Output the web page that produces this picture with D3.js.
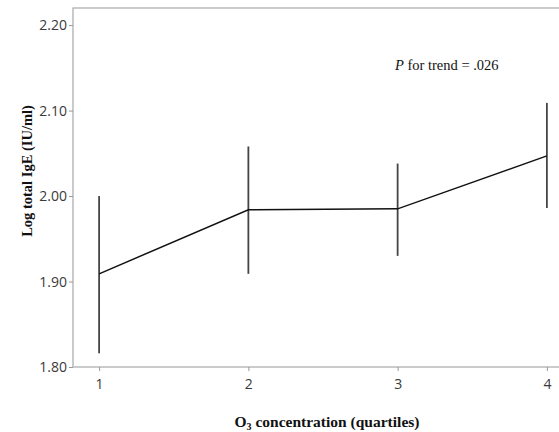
<!DOCTYPE html>
<html>
<head>
<meta charset="utf-8">
<script src="https://cdn.jsdelivr.net/npm/d3@7"></script>
<style>
  body { margin: 0; background: #fff; }
  svg { display: block; overflow: hidden; }
</style>
</head>
<body>
<svg id="canvas" width="559" height="432"></svg>
<script>
let quartiles = [1, 2, 3, 4]
let means = [1.909, 1.984, 1.985, 2.047]
let upper = [2.000, 2.058, 2.038, 2.109]
let lower = [1.816, 1.909, 1.930, 1.986]
let yTicks = [1.80, 1.90, 2.00, 2.10, 2.20]

let canvas = d3.select('#canvas')

let plotLeft = 73, plotRight = 573, plotTop = 8, plotBottom = 367

let xScale = d3.scaleLinear().domain([0.825, 4.175]).range([plotLeft, plotRight])
let yScale = d3.scaleLinear().domain([1.80, 2.22]).range([plotBottom, plotTop])

// frame
canvas.append('rect')
      .attr('x', plotLeft).attr('y', plotTop)
      .attr('width', plotRight - plotLeft).attr('height', plotBottom - plotTop)
      .attr('fill', 'none')
      .attr('stroke', '#a8a8a8')
      .attr('stroke-width', 1.2)

let yAxis = d3.axisLeft(yScale).tickValues(yTicks)
              .tickFormat(d3.format('.2f')).tickSize(4).tickPadding(2)
let xAxis = d3.axisBottom(xScale).tickValues(quartiles)
              .tickFormat(d3.format('d')).tickSize(4).tickPadding(8)

let gy = canvas.append('g').attr('transform', 'translate(' + plotLeft + ',0)').call(yAxis)
let gx = canvas.append('g').attr('transform', 'translate(0,' + plotBottom + ')').call(xAxis)

for (let g of [gx, gy]) {
    g.select('.domain').remove()
    g.selectAll('.tick line').attr('stroke', '#999')
    g.selectAll('.tick text')
     .attr('fill', '#3a3a3a')
     .style('font-family', '"Open Sans", "DejaVu Sans", sans-serif')
     .style('font-size', '14px')
}

// error bars
canvas.selectAll('.err')
      .data(quartiles)
      .enter()
      .append('line')
      .attr('class', 'err')
      .attr('x1', (d) => xScale(d))
      .attr('x2', (d) => xScale(d))
      .attr('y1', (d, i) => yScale(upper[i]))
      .attr('y2', (d, i) => yScale(lower[i]))
      .attr('stroke', '#444')
      .attr('stroke-width', 1.8)

// mean line
let line = d3.line()
             .x((d) => xScale(d))
             .y((d, i) => yScale(means[i]))

canvas.append('path')
      .datum(quartiles)
      .attr('d', line)
      .attr('fill', 'none')
      .attr('stroke', '#111')
      .attr('stroke-width', 1.5)

// annotation
let note = canvas.append('text')
      .attr('x', 395).attr('y', 70)
      .style('font-family', '"Liberation Serif", "DejaVu Serif", serif')
      .style('font-size', '14.5px')
      .attr('fill', '#111')
note.append('tspan').style('font-style', 'italic').text('P')
note.append('tspan').text(' for trend = .026')

// axis titles
canvas.append('text')
      .attr('transform', 'translate(32,171) rotate(-90)')
      .attr('text-anchor', 'middle')
      .style('font-family', '"Liberation Serif", "DejaVu Serif", serif')
      .style('font-size', '14.5px')
      .style('font-weight', 'bold')
      .attr('fill', '#111')
      .text('Log total IgE (IU/ml)')

let xt = canvas.append('text')
      .attr('x', 327).attr('y', 427)
      .attr('text-anchor', 'middle')
      .style('font-family', '"Liberation Serif", "DejaVu Serif", serif')
      .style('font-size', '15.5px')
      .style('font-weight', 'bold')
      .attr('fill', '#111')
xt.append('tspan').text('O')
xt.append('tspan').attr('dy', 3).style('font-size', '10px').text('3')
xt.append('tspan').attr('dy', -3).text(' concentration (quartiles)')
</script>
</body>
</html>
